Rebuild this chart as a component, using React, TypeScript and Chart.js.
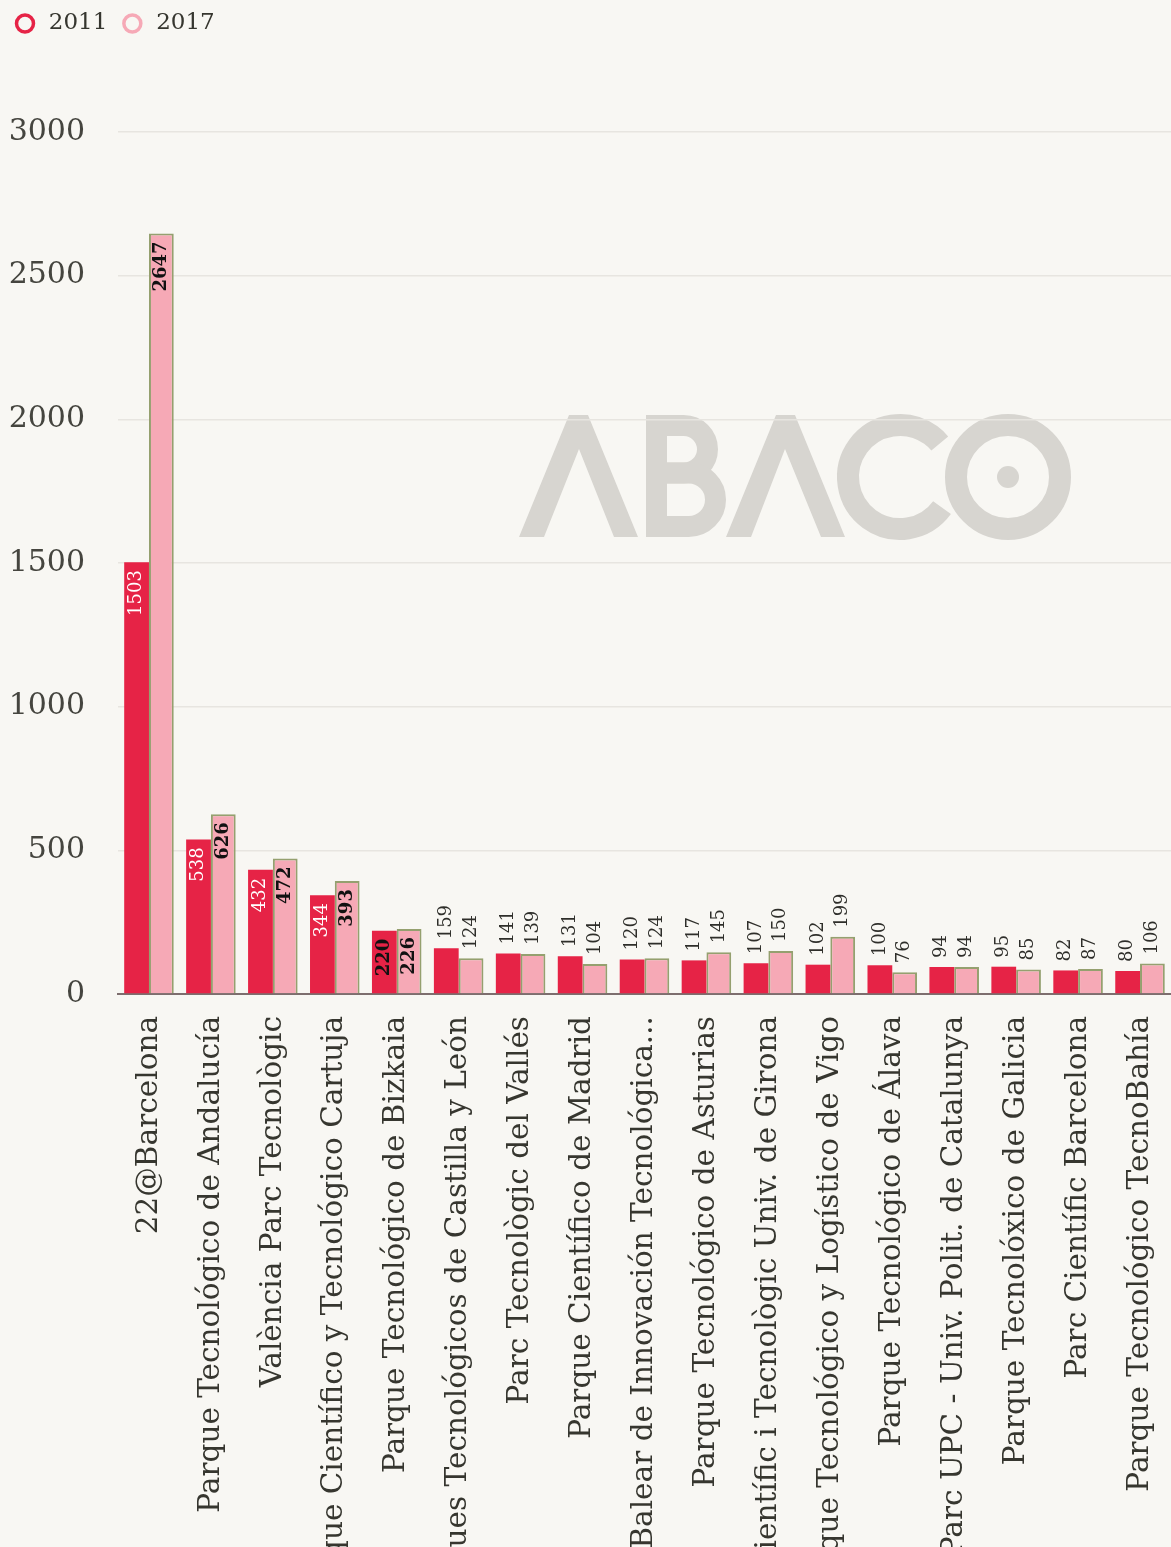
import React, { useEffect, useRef } from "react";
import { Chart, registerables } from "chart.js";

Chart.register(...registerables);

const categories = [
  "22@Barcelona",
  "Parque Tecnológico de Andalucía",
  "València Parc Tecnològic",
  "Parque Científico y Tecnológico Cartuja",
  "Parque Tecnológico de Bizkaia",
  "Parques Tecnológicos de Castilla y León",
  "Parc Tecnològic del Vallés",
  "Parque Científico de Madrid",
  "Parque Balear de Innovación Tecnológica...",
  "Parque Tecnológico de Asturias",
  "Parc Científic i Tecnològic Univ. de Girona",
  "Parque Tecnológico y Logístico de Vigo",
  "Parque Tecnológico de Álava",
  "Parc UPC - Univ. Polit. de Catalunya",
  "Parque Tecnolóxico de Galicia",
  "Parc Científic Barcelona",
  "Parque Tecnológico TecnoBahía",
];

const values2011 = [1503, 538, 432, 344, 220, 159, 141, 131, 120, 117, 107, 102, 100, 94, 95, 82, 80];
const values2017 = [2647, 626, 472, 393, 226, 124, 139, 104, 124, 145, 150, 199, 76, 94, 85, 87, 106];
const seriesNames = ["2011", "2017"];

const yMin = 0;
const yMax = 3000;
const yStep = 500;

const FONT = "'DejaVu Serif', serif";
const BG = "#f8f7f3";
const RED = "#e62346";
const PINK = "#f6a9b6";
const OLIVE = "#95a06f";
const LOGO = "#d7d5d0";

const backgroundPlugin = {
  id: "bgFill",
  beforeDraw(chart: any) {
    const { ctx, width, height, chartArea } = chart;
    ctx.save();
    ctx.fillStyle = BG;
    ctx.fillRect(0, 0, width, height);
    // watermark logo
    const ox = chartArea.left + 401;
    const oy = chartArea.top + 283;
    ctx.translate(ox, oy);
    ctx.fillStyle = LOGO;
    ctx.strokeStyle = LOGO;
    const lambda = (pts: number[][]) => {
      ctx.beginPath();
      ctx.moveTo(pts[0][0], pts[0][1]);
      for (let k = 1; k < pts.length; k++) ctx.lineTo(pts[k][0], pts[k][1]);
      ctx.closePath();
      ctx.fill();
    };
    lambda([[0, 122], [50, 0], [69, 0], [119, 122], [95, 122], [60, 34], [25, 122]]);
    lambda([[207, 122], [257, 0], [276, 0], [326, 122], [302, 122], [266, 34], [232, 122]]);
    ctx.lineWidth = 21;
    ctx.lineCap = "butt";
    ctx.beginPath();
    ctx.moveTo(137.5, 0);
    ctx.lineTo(137.5, 122);
    ctx.stroke();
    ctx.beginPath();
    ctx.moveTo(130, 10.5);
    ctx.lineTo(164.75, 10.5);
    ctx.arc(164.75, 34.25, 23.75, -Math.PI / 2, Math.PI / 2);
    ctx.lineTo(130, 58);
    ctx.stroke();
    ctx.beginPath();
    ctx.moveTo(130, 58);
    ctx.lineTo(169.75, 58);
    ctx.arc(169.75, 84.75, 26.75, -Math.PI / 2, Math.PI / 2);
    ctx.lineTo(130, 111.5);
    ctx.stroke();
    ctx.lineWidth = 22;
    ctx.beginPath();
    ctx.arc(381, 62, 52, 0.63, Math.PI * 2 - 0.7);
    ctx.stroke();
    ctx.beginPath();
    ctx.arc(489, 62, 52, 0, Math.PI * 2);
    ctx.stroke();
    ctx.beginPath();
    ctx.arc(489, 62, 11, 0, Math.PI * 2);
    ctx.fill();
    ctx.restore();
  },
};

const legendSpacer = {
  id: "legendSpacer",
  beforeInit(chart: any) {
    const legend = chart.legend;
    if (!legend) return;
    const orig = legend.fit;
    legend.fit = function () {
      orig.call(this);
      this.height += 87;
    };
  },
};

const barLabels = {
  id: "barLabels",
  afterDatasetsDraw(chart: any) {
    const ctx = chart.ctx;
    chart.data.datasets.forEach((ds: any, di: number) => {
      const meta = chart.getDatasetMeta(di);
      meta.data.forEach((bar: any, i: number) => {
        const v = ds.data[i] as number;
        const text = String(v);
        const { x, y, base } = bar.getProps(["x", "y", "base"], true);
        const h = base - y;
        ctx.save();
        ctx.font = `18px ${FONT}`;
        const tw = ctx.measureText(text).width;
        const inside = h >= tw + 26;
        ctx.textBaseline = "middle";
        if (inside) {
          const white = di === 0 && v >= 300;
          ctx.font = white ? `18px ${FONT}` : `bold 18px ${FONT}`;
          ctx.fillStyle = white ? "#ffffff" : "#111111";
          ctx.translate(x, y + 8);
          ctx.rotate(-Math.PI / 2);
          ctx.textAlign = "right";
          ctx.fillText(text, 0, 0);
        } else {
          ctx.fillStyle = "#2e2e2a";
          ctx.translate(x, y - 9);
          ctx.rotate(-Math.PI / 2);
          ctx.textAlign = "left";
          ctx.fillText(text, 0, 0);
        }
        ctx.restore();
      });
    });
  },
};

export default function App() {
  const ref = useRef<HTMLCanvasElement | null>(null);

  useEffect(() => {
    if (!ref.current) return;
    const colors = [RED, PINK];
    const chart = new Chart(ref.current, {
      type: "bar",
      data: {
        labels: categories,
        datasets: [
          {
            label: seriesNames[0],
            data: values2011,
            backgroundColor: RED,
            borderWidth: 0,
            categoryPercentage: 0.8,
            barPercentage: 1.0,
          },
          {
            label: seriesNames[1],
            data: values2017,
            backgroundColor: PINK,
            borderColor: OLIVE,
            borderWidth: 2,
            categoryPercentage: 0.8,
            barPercentage: 1.0,
          },
        ],
      },
      options: {
        animation: false,
        responsive: true,
        maintainAspectRatio: false,
        layout: { padding: { top: -8, left: 0, right: 0, bottom: 0 } },
        plugins: {
          tooltip: { enabled: false },
          legend: {
            position: "top",
            align: "start",
            labels: {
              usePointStyle: true,
              boxWidth: 10,
              boxHeight: 12,
              padding: 20,
              color: "#36362f",
              font: { family: FONT, size: 23 },
              generateLabels: (c: any) =>
                c.data.datasets.map((ds: any, i: number) => ({
                  text: " " + ds.label,
                  fillStyle: "rgba(0,0,0,0)",
                  strokeStyle: colors[i],
                  lineWidth: 3.5,
                  pointStyle: "circle",
                  datasetIndex: i,
                  hidden: false,
                  fontColor: "#36362f",
                })),
            },
          },
        },
        scales: {
          x: {
            grid: { display: false, drawTicks: false },
            border: { display: true, color: "#7d6e6e", width: 2 },
            ticks: {
              autoSkip: false,
              minRotation: 90,
              maxRotation: 90,
              padding: 22,
              color: "#36362f",
              font: { family: FONT, size: 29.5 },
            },
            afterFit: (s: any) => {
              s.height = 553;
              s.paddingRight = 0;
              s.paddingLeft = 0;
            },
          },
          y: {
            min: yMin,
            max: yMax,
            ticks: {
              stepSize: yStep,
              padding: 33,
              color: "#45453f",
              font: { family: FONT, size: 30 },
              callback: (v: any) => String(v),
            },
            grid: { color: "#e7e5e0", lineWidth: 1.5, drawTicks: false },
            border: { display: false },
            afterFit: (s: any) => {
              s.width = 118;
            },
          },
        },
      },
      plugins: [backgroundPlugin, legendSpacer, barLabels],
    });
    return () => chart.destroy();
  }, []);

  return (
    <div
      style={{
        position: "absolute",
        left: 0,
        top: 0,
        width: 1171,
        height: 1547,
        background: BG,
      }}
    >
      <canvas ref={ref} />
    </div>
  );
}
